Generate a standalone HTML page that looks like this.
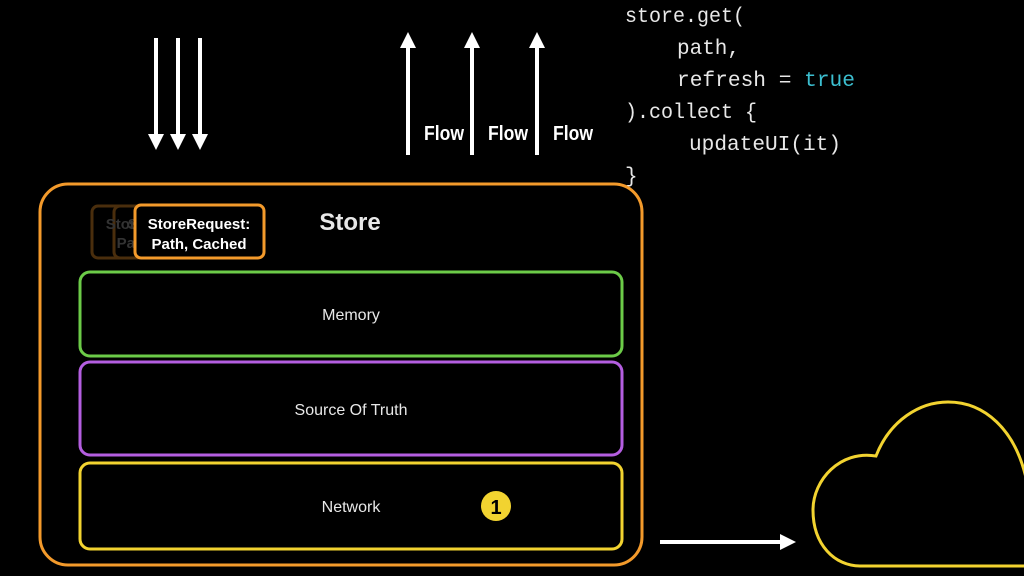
<!DOCTYPE html>
<html><head><meta charset="utf-8"><style>
html,body{margin:0;padding:0;background:#000;width:1024px;height:576px;overflow:hidden}
</style></head><body>
<svg width="1024" height="576" viewBox="0 0 1024 576" xmlns="http://www.w3.org/2000/svg">
<rect width="1024" height="576" fill="#000"/>
<g stroke="#fff" stroke-width="4" fill="#fff">
<line x1="156" y1="38" x2="156" y2="135"/><path d="M148,134 L164,134 L156,150 z" stroke="none"/>
<line x1="178" y1="38" x2="178" y2="135"/><path d="M170,134 L186,134 L178,150 z" stroke="none"/>
<line x1="200" y1="38" x2="200" y2="135"/><path d="M192,134 L208,134 L200,150 z" stroke="none"/>
<line x1="408" y1="155" x2="408" y2="46"/><path d="M400,48 L416,48 L408,32 z" stroke="none"/>
<line x1="472" y1="155" x2="472" y2="46"/><path d="M464,48 L480,48 L472,32 z" stroke="none"/>
<line x1="537" y1="155" x2="537" y2="46"/><path d="M529,48 L545,48 L537,32 z" stroke="none"/>
<line x1="660" y1="542" x2="782" y2="542"/><path d="M780,534 L780,550 L796,542 z" stroke="none"/>
</g>
<g font-family="Liberation Sans, sans-serif" font-weight="bold" font-size="20" fill="#fff">
<text x="424" y="140" textLength="40" lengthAdjust="spacingAndGlyphs">Flow</text>
<text x="488" y="140" textLength="40" lengthAdjust="spacingAndGlyphs">Flow</text>
<text x="553" y="140" textLength="40" lengthAdjust="spacingAndGlyphs">Flow</text>
</g>
<g font-family="Liberation Mono, monospace" font-size="21" fill="#e8e8e8">
<text x="625" y="22" textLength="120" lengthAdjust="spacingAndGlyphs">store.get(</text>
<text x="677" y="54">path,</text>
<text x="677" y="86" textLength="178" lengthAdjust="spacingAndGlyphs">refresh = <tspan fill="#3cbfd0">true</tspan></text>
<text x="625" y="118" textLength="132" lengthAdjust="spacingAndGlyphs">).collect {</text>
<text x="689" y="150" textLength="152" lengthAdjust="spacingAndGlyphs">updateUI(it)</text>
<text x="625" y="182">}</text>
</g>
<rect x="40" y="184" width="602" height="381" rx="28" fill="none" stroke="#f39a2b" stroke-width="3"/>
<rect x="80" y="272" width="542" height="84" rx="10" fill="none" stroke="#6ccb48" stroke-width="3"/>
<rect x="80" y="362" width="542" height="93" rx="10" fill="none" stroke="#b45ee0" stroke-width="3"/>
<rect x="80" y="463" width="542" height="86" rx="10" fill="none" stroke="#f2d330" stroke-width="3"/>
<g font-family="Liberation Sans, sans-serif" font-size="16" fill="#e8e8e8" text-anchor="middle">
<text x="351" y="320">Memory</text>
<text x="351" y="415">Source Of Truth</text>
<text x="351" y="512">Network</text>
</g>
<circle cx="496" cy="506" r="15" fill="#f2d330"/>
<text x="496" y="514" font-family="Liberation Sans, sans-serif" font-weight="bold" font-size="20" fill="#000" text-anchor="middle">1</text>
<text x="350" y="230" font-family="Liberation Sans, sans-serif" font-weight="bold" font-size="24" fill="#e8e8e8" text-anchor="middle">Store</text>
<g opacity="0.3">
<rect x="92" y="206" width="130" height="52" rx="6" fill="none" stroke="#f39a2b" stroke-width="3"/>
<rect x="114" y="206" width="130" height="52" rx="6" fill="none" stroke="#f39a2b" stroke-width="3"/>
<g font-family="Liberation Sans, sans-serif" font-weight="bold" font-size="15" fill="#aaa" text-anchor="middle">
<text x="157" y="229">StoreRequest:</text><text x="157" y="248">Path, Fetch</text>
<text x="179" y="229">StoreRequest:</text><text x="179" y="248">Path, Fetch</text>
</g></g>
<rect x="135" y="205" width="129" height="53" rx="6" fill="#000" stroke="#f39a2b" stroke-width="3"/>
<g font-family="Liberation Sans, sans-serif" font-weight="bold" font-size="15" fill="#fff" text-anchor="middle">
<text x="199" y="229">StoreRequest:</text><text x="199" y="249">Path, Cached</text>
</g>
<path d="M860,566 L1030,566 L1030,490 M1026,478 C1015,430 985,402 948,402 C920,402 890,420 876,456 C840,450 813,480 813,510 C813,545 835,566 860,566" fill="none" stroke="#f2d330" stroke-width="3"/>
</svg>
</body></html>
